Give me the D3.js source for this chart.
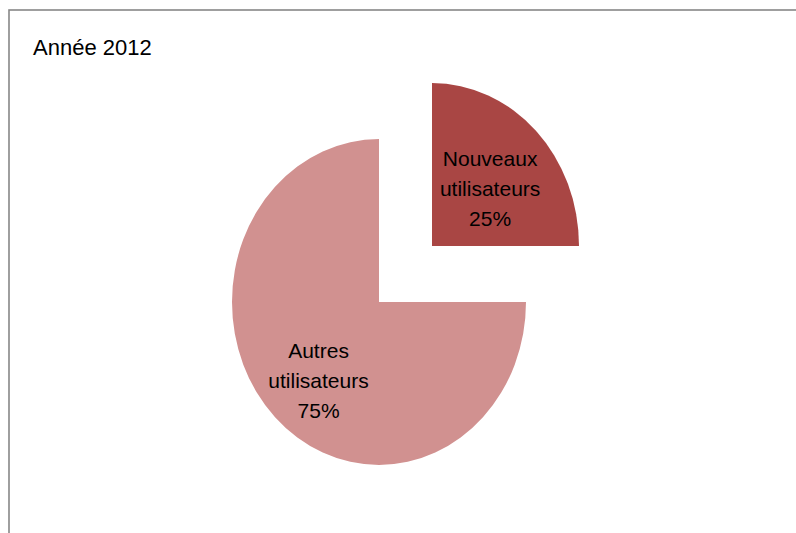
<!DOCTYPE html>
<html><head><meta charset="utf-8">
<script src="https://cdn.jsdelivr.net/npm/d3@7"></script>
<style>body{margin:0;background:#fff;}svg{display:block;}</style>
</head><body>
<svg id="c" width="796" height="533"></svg>
<script>
const title = "Année 2012";
const categories = ["Nouveaux utilisateurs", "Autres utilisateurs"];
const labelLines = [["Nouveaux", "utilisateurs"], ["Autres", "utilisateurs"]];
const values = [25, 75];
const colors = ["#A94644", "#D19190"];

const svg = d3.select("#c");
svg.append("rect").attr("x", 9).attr("y", 10).attr("width", 820).attr("height", 560)
  .attr("fill", "#fff").attr("stroke", "#878787").attr("stroke-width", 1.6);

svg.append("text").attr("x", 33).attr("y", 55).text(title)
  .attr("font-family", "Liberation Sans, Arial, sans-serif").attr("font-size", 22).attr("fill", "#000");

const cx = 379, cy = 302, rx = 147, ry = 163;
const explode = [[53, -56], [0, 0]];
const labelR = [0.54, 0.62];

const pie = d3.pie().sort(null).value(d => d)(values);
const arc = d3.arc().innerRadius(0).outerRadius(1);

const g = svg.append("g");
pie.forEach((p, i) => {
  const gx = cx + explode[i][0], gy = cy + explode[i][1];
  g.append("path").attr("d", arc(p))
    .attr("transform", `translate(${gx},${gy}) scale(${rx},${ry})`)
    .attr("fill", colors[i]);
  const la = d3.arc().innerRadius(labelR[i]).outerRadius(labelR[i]).centroid(p);
  const lx = gx + la[0] * rx + (i === 1 ? 4 : 2), ly = gy + la[1] * ry + (i === 1 ? 2 : 0);
  const lines = labelLines[i].concat([Math.round(p.value / d3.sum(values) * 100) + "%"]);
  const t = svg.append("text").attr("text-anchor", "middle")
    .attr("font-family", "Liberation Sans, Arial, sans-serif").attr("font-size", 21).attr("fill", "#000");
  lines.forEach((s, k) => {
    t.append("tspan").attr("x", lx).attr("y", ly + (k - 1) * 30 + 12.5).text(s);
  });
});
</script>
</body></html>
